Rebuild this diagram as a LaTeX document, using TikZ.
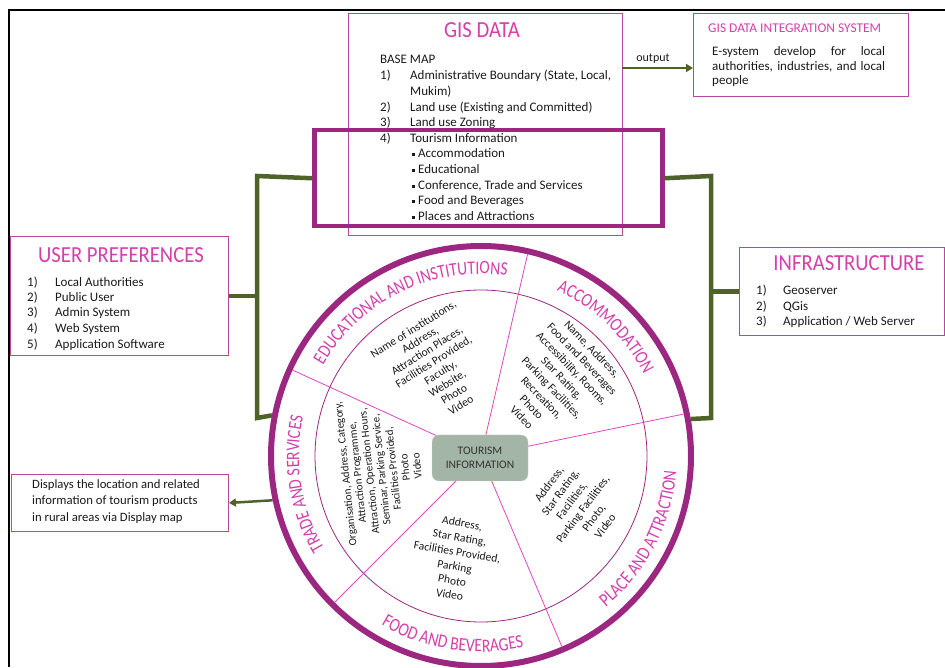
\documentclass[tikz,border=0pt]{standalone}
\usepackage{fontspec}
\setmainfont{Carlito}
\newfontfamily\titlefont[FakeStretch=0.9]{Carlito}
\newfontfamily\ringfont[FakeStretch=0.82]{Carlito}
\usetikzlibrary{decorations.text,arrows.meta}
\definecolor{ringpurple}{HTML}{9C2780}
\definecolor{boxborder}{HTML}{B8489F}
\definecolor{titlepink}{HTML}{D43FAA}
\definecolor{divpink}{HTML}{E046C0}
\definecolor{conngreen}{HTML}{4F6228}
\definecolor{tboxfill}{HTML}{A3B5A6}
\definecolor{tboxborder}{HTML}{C5D2C6}
\definecolor{bodytext}{HTML}{1A1A1A}
\newcommand\ringsty{\ringfont\fontsize{19}{19}\selectfont\color{titlepink}}
\begin{document}
\begin{tikzpicture}[x=1pt,y=1pt,
  pbox/.style={draw=boxborder, line width=0.9pt, inner sep=0},
  ttl/.style={font=\titlefont\fontsize{23}{23}\selectfont, text=titlepink, inner sep=0},
  txt/.style={font=\fontsize{13}{14}\selectfont, text=bodytext, anchor=base west, inner sep=0},
  smalltxt/.style={font=\fontsize{12.7}{14}\selectfont, text=bodytext, anchor=base west, inner sep=0},
  sect/.style={text=bodytext, align=center, inner sep=0},
  conn/.style={draw=conngreen, line width=4.5pt},
  arr/.style={draw=conngreen, line width=2.5pt, -{Triangle[length=7pt,width=8pt]}},
  divider/.style={draw=divpink, line width=0.8pt}]
\useasboundingbox (0,0) rectangle (945,667);

% frame
\draw[line width=2pt] (8,657) -- (945,657);
\draw[line width=2pt] (9,657) -- (9,0);

% GIS DATA box
\node[pbox, minimum width=274pt, minimum height=222pt, anchor=north west] (gis) at (348,654) {};
\node[ttl] (gistitle) at (482,637) {GIS DATA};
\node[txt] (gbase) at (380,603) {BASE MAP};
\foreach \n/\y/\t [count=\i] in {1)/587/{Administrative Boundary (State, Local,}, 2)/555/{Land use (Existing and Committed)}, 3)/540/{Land use Zoning}, 4)/524/{Tourism Information}} {
  \node[txt] (gnum\i) at (380,\y) {\n};
  \node[txt] (gitem\i) at (410,\y) {\t};
}
\node[txt] (gmukim) at (410,571) {Mukim)};
\foreach \y/\t [count=\i] in {509/Accommodation, 493/Educational, 477/{Conference, Trade and Services}, 462/Food and Beverages, 446/Places and Attractions} {
  \node[txt] (gb\i) at (412,\y) {\rule[2pt]{3pt}{3pt}\hspace{3pt}\t};
}

% big purple rectangle
\node[draw=ringpurple, line width=4.5pt, minimum width=348pt, minimum height=96pt, inner sep=0, anchor=north west] (tour) at (312,539) {};

% integration box
\node[pbox, minimum width=215pt, minimum height=83pt, anchor=north west] (integ) at (693,654) {};
\node[anchor=base west, inner sep=0, text=titlepink, font=\fontsize{13.4}{14}\selectfont] (integtitle) at (708,634) {GIS DATA INTEGRATION SYSTEM};
\node[txt] (integl1) at (712,611) {\makebox[173pt][s]{E-system develop for local}};
\node[txt] (integl2) at (712,596.5) {\makebox[173pt][s]{authorities, industries, and local}};
\node[txt] (integl3) at (712,582) {people};

% output arrow
\coordinate (outp) at (622,599);
\draw[arr] (outp) -- (outp -| integ.west);
\node[anchor=base, inner sep=0, font=\fontsize{12}{12}\selectfont, text=bodytext] (outlbl) at (653,605) {output};

% user preferences
\node[pbox, minimum width=218pt, minimum height=119pt, anchor=north west] (up) at (10,431) {};
\node[ttl] (uptitle) at (121,412) {USER PREFERENCES};
\foreach \y/\t [count=\i] in {380/Local Authorities, 365/Public User, 350/Admin System, 334/Web System, 318/Application Software} {
  \node[txt] (upn\i) at (27,\y) {\i)};
  \node[txt] (upt\i) at (55,\y) {\t};
}

% infrastructure
\node[pbox, minimum width=205pt, minimum height=88pt, anchor=north west] (infra) at (739,420) {};
\node[ttl] (infratitle) at (849,404) {INFRASTRUCTURE};
\foreach \y/\t [count=\i] in {372/Geoserver, 356/QGis, 341/{Application / Web Server}} {
  \node[txt] (infn\i) at (756,\y) {\i)};
  \node[txt] (inft\i) at (783,\y) {\t};
}

% display box
\node[pbox, minimum width=217pt, minimum height=57pt, anchor=north west] (disp) at (11,193) {};
\node[smalltxt] (disp1) at (32,178) {Displays the location and related};
\node[smalltxt] (disp2) at (32,162) {information of tourism products};
\node[smalltxt] (disp3) at (32,146) {in rural areas via Display map};

% wheel
\node[circle, draw=ringpurple, line width=6pt, minimum size=420pt, inner sep=0] (wheel) at (481,211) {};
\draw[draw=ringpurple, line width=0.8pt] (wheel.center) circle[radius=166];
\foreach \a in {77, 11.7, -67, -135, 155.5} {
  \draw[divider] (wheel.center) -- ++(\a:207);
}
\node[draw=tboxborder, fill=tboxfill, rounded corners=7pt, minimum width=96pt, minimum height=46pt, align=center, inner sep=0, font=\fontsize{11.5}{14}\selectfont, text=black!80] (tinfo) at (480,209) {TOURISM\\INFORMATION};

% ring labels
\path[decorate, decoration={text along path, text align=center, text={|\ringsty|EDUCATIONAL AND INSTITUTIONS}}]
  ([shift={(155:182)}]wheel.center) arc[start angle=155, end angle=77, radius=182];
\path[decorate, decoration={text along path, text align=center, text={|\ringsty|ACCOMMODATION}}]
  ([shift={(76:182)}]wheel.center) arc[start angle=76, end angle=16, radius=182];
\path[decorate, decoration={text along path, text align=center, text={|\ringsty|PLACE AND ATTRACTION}}]
  ([shift={(-62:196)}]wheel.center) arc[start angle=-62, end angle=7, radius=196];
\path[decorate, decoration={text along path, text align=center, text={|\ringsty|FOOD AND BEVERAGES}}]
  ([shift={(-130:196)}]wheel.center) arc[start angle=-130, end angle=-68, radius=196];
\path[decorate, decoration={text along path, text align=center, text={|\ringsty|TRADE AND SERVICES}}]
  ([shift={(222:182)}]wheel.center) arc[start angle=222, end angle=156, radius=182];

% sector contents
\node[sect, rotate=32, font=\fontsize{11.6}{12.8}\selectfont] (edutxt) at (437,300)
  {Name of institutions,\\Address,\\Attraction Places,\\Facilities Provided,\\Faculty,\\Website,\\Photo\\Video};
\node[sect, rotate=-46, font=\fontsize{11.6}{14}\selectfont] (acctxt) at (557,284)
  {Name, Address,\\Food and Beverages\\Accessibility, Rooms,\\Star Rating,\\Parking Facilities,\\Recreation,\\Photo\\Video};
\node[sect, rotate=53, font=\fontsize{11.6}{14}\selectfont] (plctxt) at (577,162)
  {Address,\\Star Rating,\\Facilities,\\Parking Facilities,\\Photo,\\Video};
\node[sect, rotate=-10, font=\fontsize{11.6}{14.5}\selectfont] (foodtxt) at (456,108)
  {Address,\\Star Rating,\\Facilities Provided,\\Parking\\Photo\\Video};
\node[sect, rotate=96, font=\fontsize{11}{12}\selectfont] (tradetxt) at (381,197)
  {Organisation, Address, Category,\\Attraction Programme,\\Attraction, Operation Hours,\\Seminar, Parking Service,\\Facilities Provided,\\Photo\\Video};

% green connectors
\coordinate (ltop) at (257,491);
\coordinate (lbot) at (257,249);
\coordinate (rtop) at (711,491);
\coordinate (rbot) at (711,249);
\draw[conn] (tour.west) -- (ltop) -- (lbot) -- (wheel.169.7);
\draw[conn] (up.east) -- (up.east -| ltop);
\draw[conn] (tour.east) -- (rtop) -- (rbot) -- (wheel.10.3);
\draw[conn] (infra.west) -- (infra.west -| rtop);
\draw[arr] (wheel.192.5) -- (disp.east);
\end{tikzpicture}
\end{document}
